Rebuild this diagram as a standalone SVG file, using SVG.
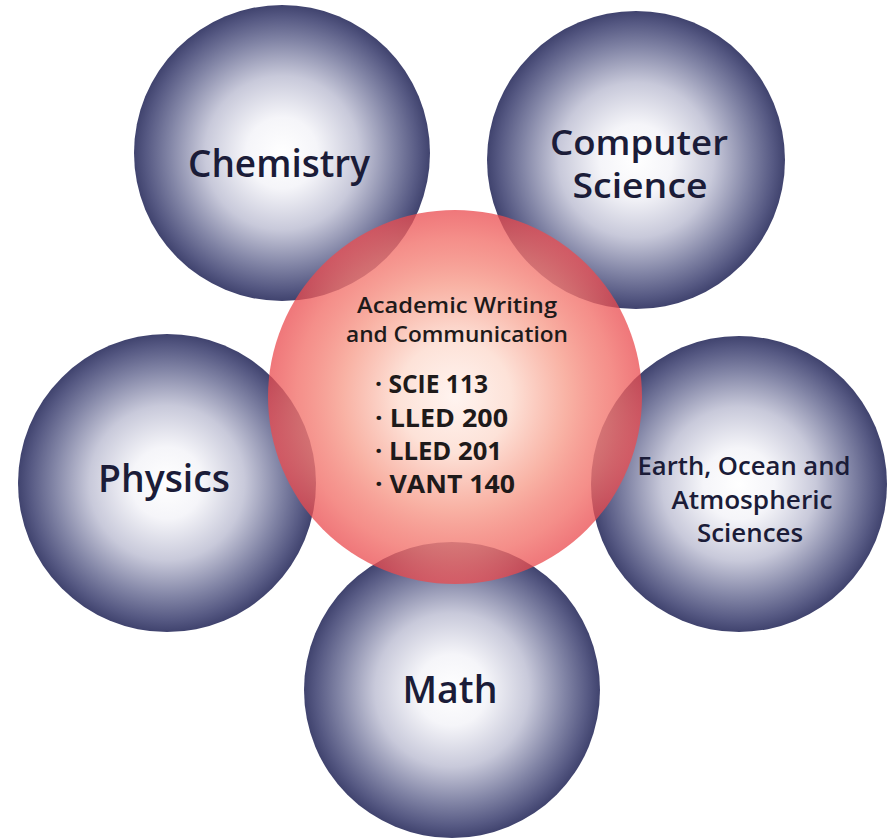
<svg xmlns="http://www.w3.org/2000/svg" width="891" height="839" viewBox="0 0 891 839">
  <defs>
    <radialGradient id="blueGrad" cx="0.5" cy="0.5" r="0.5">
      <stop offset="0" stop-color="#ffffff"/>
      <stop offset="0.24" stop-color="#f5f5f9"/>
      <stop offset="0.52" stop-color="#c8c9da"/>
      <stop offset="0.76" stop-color="#8285a6"/>
      <stop offset="0.92" stop-color="#565983"/>
      <stop offset="1" stop-color="#40436e"/>
    </radialGradient>
    <radialGradient id="redGrad" cx="0.5" cy="0.5" r="0.5">
      <stop offset="0" stop-color="#fff4f0" stop-opacity="1"/>
      <stop offset="0.3" stop-color="#fde2d8" stop-opacity="1"/>
      <stop offset="0.6" stop-color="#f8ab9c" stop-opacity="0.92"/>
      <stop offset="0.85" stop-color="#f2726c" stop-opacity="0.8"/>
      <stop offset="1" stop-color="#ea4a4e" stop-opacity="0.75"/>
    </radialGradient>
    <style>
      .blue { fill: url(#blueGrad); }
      .red { fill: url(#redGrad); }
      .lbl { font-family: "Open Sans", "Noto Sans", "Liberation Sans", sans-serif; font-weight: 600; fill: #1b1c38; text-anchor: middle; }
      .big { font-size: 37px; }
      .cs { font-size: 34px; }
      .mid { font-size: 25px; }
      .ctr { font-family: "Open Sans", "Noto Sans", "Liberation Sans", sans-serif; fill: #1e1a1a; }
      .head { font-size: 22px; font-weight: 600; text-anchor: middle; }
      .item { font-size: 25px; font-weight: 700; }
    </style>
  </defs>
  <rect width="891" height="839" fill="#ffffff"/>
  <g id="connectors"></g>
  <g id="chemistry">
    <circle class="blue" cx="282" cy="153" r="148"/>
    <text class="lbl big" x="279" y="177" textLength="182" lengthAdjust="spacingAndGlyphs">Chemistry</text>
  </g>
  <g id="computer-science">
    <circle class="blue" cx="636" cy="160" r="149"/>
    <text class="lbl cs" x="639" y="155" textLength="178" lengthAdjust="spacingAndGlyphs">Computer</text>
    <text class="lbl cs" x="640" y="198" textLength="135" lengthAdjust="spacingAndGlyphs">Science</text>
  </g>
  <g id="physics">
    <circle class="blue" cx="167" cy="483" r="149"/>
    <text class="lbl big" x="164" y="492" textLength="132" lengthAdjust="spacingAndGlyphs">Physics</text>
  </g>
  <g id="earth">
    <circle class="blue" cx="739" cy="484" r="148"/>
    <text class="lbl mid" x="744" y="475" textLength="213" lengthAdjust="spacingAndGlyphs">Earth, Ocean and</text>
    <text class="lbl mid" x="752" y="509" textLength="161" lengthAdjust="spacingAndGlyphs">Atmospheric</text>
    <text class="lbl mid" x="750" y="542" textLength="106" lengthAdjust="spacingAndGlyphs">Sciences</text>
  </g>
  <g id="math">
    <circle class="blue" cx="452" cy="690" r="148"/>
    <text class="lbl big" x="450" y="703" textLength="95" lengthAdjust="spacingAndGlyphs">Math</text>
  </g>
  <g id="academic-writing">
    <circle class="red" cx="455" cy="397" r="187"/>
    <text class="ctr head" x="457" y="313" textLength="200" lengthAdjust="spacingAndGlyphs">Academic Writing</text>
    <text class="ctr head" x="457" y="342" textLength="222" lengthAdjust="spacingAndGlyphs">and Communication</text>
    <text class="ctr item" x="375" y="393" textLength="113" lengthAdjust="spacingAndGlyphs">· SCIE 113</text>
    <text class="ctr item" x="375" y="427" textLength="133" lengthAdjust="spacingAndGlyphs">· LLED 200</text>
    <text class="ctr item" x="375" y="460" textLength="127" lengthAdjust="spacingAndGlyphs">· LLED 201</text>
    <text class="ctr item" x="375" y="493" textLength="140" lengthAdjust="spacingAndGlyphs">· VANT 140</text>
  </g>
</svg>
